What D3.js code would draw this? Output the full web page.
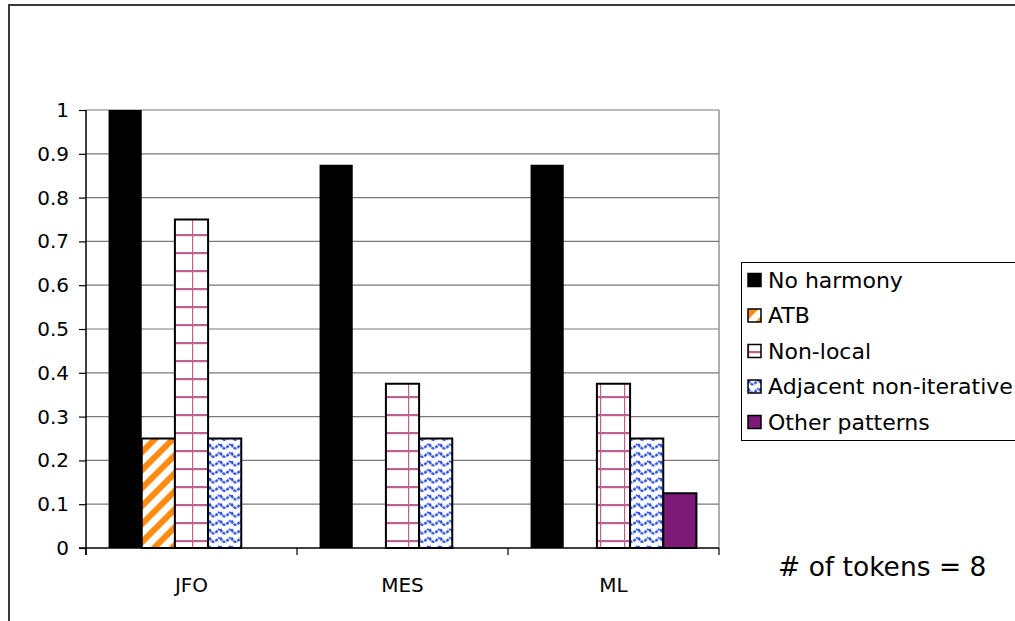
<!DOCTYPE html>
<html>
<head>
<meta charset="utf-8">
<script src="https://cdn.jsdelivr.net/npm/d3@7/dist/d3.min.js"></script>
<style>
  html, body { margin: 0; padding: 0; background: #fff; }
  svg { display: block; font-family: "DejaVu Sans", Verdana, sans-serif; }
</style>
</head>
<body>
<svg id="chart" width="1015" height="621"></svg>
<script>
// Share of tokens showing each harmony pattern, per speaker group
const categories = ["JFO", "MES", "ML"];
const seriesNames = ["No harmony", "ATB", "Non-local", "Adjacent non-iterative", "Other patterns"];
const noHarmony  = [1, 0.875, 0.875];
const atb        = [0.25, 0, 0];
const nonLocal   = [0.75, 0.375, 0.375];
const adjacent   = [0.25, 0.25, 0.25];
const other      = [0, 0, 0.125];
const yTicks = [0, 0.1, 0.2, 0.3, 0.4, 0.5, 0.6, 0.7, 0.8, 0.9, 1];
const note = "# of tokens = 8";

const seriesValues = [noHarmony, atb, nonLocal, adjacent, other];
const rows = [];
categories.forEach((c, ci) => {
  seriesNames.forEach((s, si) => rows.push({cat: c, series: s, idx: si, value: seriesValues[si][ci]}));
});

const svg = d3.select("#chart");
const defs = svg.append("defs");

// Fill patterns
const pAtb = defs.append("pattern").attr("id", "p-atb")
  .attr("patternUnits", "userSpaceOnUse").attr("width", 18).attr("height", 18);
pAtb.append("rect").attr("width", 18).attr("height", 18).attr("fill", "#fff");
pAtb.append("path").attr("d", "M-4,22 L22,-4 M-13,13 L13,-13 M5,31 L31,5")
  .attr("stroke", "#ff8a10").attr("stroke-width", 6);

const pNl = defs.append("pattern").attr("id", "p-nl")
  .attr("patternUnits", "userSpaceOnUse").attr("width", 24).attr("height", 18);
pNl.append("rect").attr("width", 24).attr("height", 18).attr("fill", "#fff");
pNl.append("path").attr("d", "M0,1 H24").attr("stroke", "#c0608f").attr("stroke-width", 2.4);
pNl.append("path").attr("d", "M0,0 V18").attr("stroke", "#c0608f").attr("stroke-width", 2.4);

const pAdj = defs.append("pattern").attr("id", "p-adj")
  .attr("patternUnits", "userSpaceOnUse").attr("width", 11).attr("height", 8.5);
pAdj.append("rect").attr("width", 11).attr("height", 8.5).attr("fill", "#fff");
pAdj.append("path").attr("d", "M0.5,2 Q2.5,7.5 5.5,6 T10.5,1.8")
  .attr("fill", "none").attr("stroke", "#2c4fe8").attr("stroke-width", 2.4)
  .attr("stroke-dasharray", "3,1");

const fills = {
  "No harmony": "#000000",
  "ATB": "url(#p-atb)",
  "Non-local": "url(#p-nl)",
  "Adjacent non-iterative": "url(#p-adj)",
  "Other patterns": "#7d1a78"
};

// Outer chart frame
svg.append("path").attr("d", "M9,621 V5 H1015")
  .attr("fill", "none").attr("stroke", "#3a3a3a").attr("stroke-width", 2);

// Scales
const plot = {left: 86, right: 719, top: 110, bottom: 548};
const x0 = d3.scaleBand().domain(categories).range([plot.left, plot.right]).padding(0);
const x1 = d3.scaleBand().domain(seriesNames).range([0, x0.bandwidth()])
  .paddingInner(0).paddingOuter(0.68);
const y = d3.scaleLinear().domain([0, 1]).range([plot.bottom, plot.top]);

// Gridlines
svg.append("g").selectAll("line").data(yTicks.filter(d => d > 0)).join("line")
  .attr("x1", plot.left).attr("x2", plot.right)
  .attr("y1", d => y(d)).attr("y2", d => y(d))
  .attr("stroke", "#7a7a7a").attr("stroke-width", 1.2);
svg.append("line").attr("x1", plot.right).attr("x2", plot.right)
  .attr("y1", plot.top).attr("y2", plot.bottom)
  .attr("stroke", "#7a7a7a").attr("stroke-width", 1.2);

// Bars
svg.append("g").selectAll("rect").data(rows.filter(d => d.value > 0)).join("rect")
  .attr("x", d => x0(d.cat) + x1(d.series))
  .attr("y", d => y(d.value))
  .attr("width", x1.bandwidth())
  .attr("height", d => y(0) - y(d.value))
  .attr("fill", d => fills[d.series])
  .attr("stroke", d => d.idx === 0 ? "none" : "#000")
  .attr("stroke-width", 2);

// Y axis
const yAxis = d3.axisLeft(y).tickValues(yTicks).tickSize(7).tickPadding(10)
  .tickFormat(d => d3.format("~g")(d));
const gy = svg.append("g").attr("transform", `translate(${plot.left},0)`).call(yAxis);
gy.select(".domain").attr("stroke", "#000").attr("stroke-width", 1.5).attr("d", `M0,${plot.top}V${plot.bottom + 7}`);
gy.selectAll(".tick line").attr("stroke", "#000").attr("stroke-width", 1.2);
gy.selectAll("text").attr("font-size", 20).attr("fill", "#000")
  .attr("font-family", "DejaVu Sans, sans-serif");

// X axis
const xAxis = d3.axisBottom(x0).tickSize(0).tickPadding(30);
const gx = svg.append("g").attr("transform", `translate(0,${plot.bottom})`).call(xAxis);
gx.select(".domain").attr("stroke", "#000").attr("stroke-width", 1.5)
  .attr("d", `M${plot.left - 7},0H${plot.right}`);
gx.selectAll("text").attr("font-size", 20).attr("fill", "#000")
  .attr("font-family", "DejaVu Sans, sans-serif");
// category separators
const seps = categories.map(c => x0(c)).concat([plot.right]);
svg.append("g").selectAll("line").data(seps).join("line")
  .attr("x1", d => d).attr("x2", d => d)
  .attr("y1", plot.bottom).attr("y2", plot.bottom + 7)
  .attr("stroke", "#000").attr("stroke-width", 1.2);

// Legend
const lg = svg.append("g");
lg.append("rect").attr("x", 741.5).attr("y", 262.5).attr("width", 300).attr("height", 178)
  .attr("fill", "#fff").attr("stroke", "#000").attr("stroke-width", 1);
const items = lg.selectAll("g.item").data(seriesNames).join("g")
  .attr("class", "item")
  .attr("transform", (d, i) => `translate(748,${280 + i * 35.5})`);
items.append("rect").attr("x", 0).attr("y", -6.5).attr("width", 13).attr("height", 13)
  .attr("fill", d => fills[d]).attr("stroke", "#000").attr("stroke-width", 1.5);
items.append("text").attr("x", 20).attr("y", 0).attr("dy", "0.36em")
  .attr("font-size", 22).attr("fill", "#000").text(d => d);

// Token count note
svg.append("text").attr("x", 778).attr("y", 576).attr("font-size", 26.5)
  .attr("fill", "#000").text(note);
</script>
</body>
</html>
